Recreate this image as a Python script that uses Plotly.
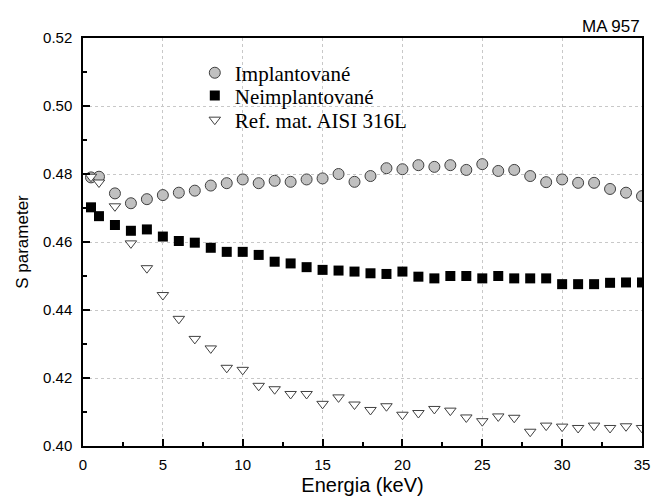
import plotly.graph_objects as go

energy = [0.5, 1, 2, 3, 4, 5, 6, 7, 8, 9, 10, 11, 12, 13, 14, 15, 16, 17, 18,
          19, 20, 21, 22, 23, 24, 25, 26, 27, 28, 29, 30, 31, 32, 33, 34, 35]

implantovane = [0.4790, 0.4792, 0.4743, 0.4714, 0.4726, 0.4738, 0.4745, 0.4751,
                0.4766, 0.4773, 0.4784, 0.4773, 0.4780, 0.4777, 0.4784, 0.4787,
                0.4800, 0.4777, 0.4794, 0.4817, 0.4814, 0.4826, 0.4821, 0.4826,
                0.4812, 0.4829, 0.4809, 0.4812, 0.4794, 0.4776, 0.4784, 0.4774,
                0.4774, 0.4756, 0.4745, 0.4735]

neimplantovane = [0.4702, 0.4676, 0.4650, 0.4633, 0.4637, 0.4616, 0.4603, 0.4598,
                  0.4583, 0.4571, 0.4571, 0.4562, 0.4542, 0.4537, 0.4526, 0.4518,
                  0.4516, 0.4513, 0.4508, 0.4506, 0.4513, 0.4498, 0.4493, 0.4500,
                  0.4500, 0.4493, 0.4500, 0.4493, 0.4493, 0.4493, 0.4476, 0.4476,
                  0.4476, 0.4480, 0.4481, 0.4481]

ref_aisi = [0.4792, 0.4775, 0.4705, 0.4596, 0.4523, 0.4444, 0.4374, 0.4315,
            0.4287, 0.4230, 0.4224, 0.4177, 0.4167, 0.4153, 0.4153, 0.4124,
            0.4143, 0.4122, 0.4106, 0.4117, 0.4092, 0.4097, 0.4109, 0.4104,
            0.4084, 0.4073, 0.4087, 0.4083, 0.4042, 0.4060, 0.4057, 0.4053,
            0.4060, 0.4053, 0.4058, 0.4053]

names = ["Implantované", "Neimplantované", "Ref. mat. AISI 316L"]
x_ticks = [0, 5, 10, 15, 20, 25, 30, 35]
y_ticks = [0.40, 0.42, 0.44, 0.46, 0.48, 0.50, 0.52]

fig = go.Figure()
fig.add_trace(go.Scatter(
    x=energy, y=implantovane, mode="markers", name=names[0], legend="legend",
    marker=dict(symbol="circle", size=11, color="#c0c0c0",
                line=dict(color="#404040", width=1))))
fig.add_trace(go.Scatter(
    x=energy, y=neimplantovane, mode="markers", name=names[1], legend="legend2",
    marker=dict(symbol="square", size=10, color="black",
                line=dict(color="black", width=0))))
fig.add_trace(go.Scatter(
    x=energy, y=ref_aisi, mode="markers", name=names[2], legend="legend3",
    marker=dict(symbol="triangle-down", size=10, color="white",
                line=dict(color="#404040", width=1))))

axis_common = dict(
    showline=True, linecolor="black", linewidth=1.5, mirror=True,
    ticks="inside", ticklen=7, tickwidth=1.5, tickcolor="black",
    showgrid=True, gridcolor="#c8c8c8", griddash="dot", gridwidth=1,
    zeroline=False, automargin=False,
    tickfont=dict(family="Liberation Sans, Arial", size=15, color="black"),
)

fig.update_xaxes(
    range=[0, 35], tickvals=x_ticks, ticktext=[str(v) for v in x_ticks],
    ticklabelstandoff=4,
    minor=dict(dtick=2.5, ticks="inside", ticklen=4, tickwidth=1.5,
               tickcolor="black", showgrid=False),
    title=dict(text="Energia (keV)",
               font=dict(family="Liberation Sans, Arial", size=20, color="black"),
               standoff=6),
    **axis_common)
fig.update_yaxes(
    range=[0.40, 0.52], tickvals=y_ticks, ticktext=[f"{v:.2f}" for v in y_ticks],
    ticklabelstandoff=6,
    minor=dict(dtick=0.01, ticks="inside", ticklen=4, tickwidth=1.5,
               tickcolor="black", showgrid=False),
    title=dict(text="S parameter",
               font=dict(family="Liberation Sans, Arial", size=17, color="black"),
               standoff=10),
    **axis_common)

fig.add_annotation(
    text="MA 957", xref="paper", yref="paper", x=1.0, y=1.0,
    xanchor="right", yanchor="bottom", showarrow=False, yshift=0,
    font=dict(family="Liberation Sans, Arial", size=17, color="black"))

leg_font = dict(family="Liberation Serif, Times New Roman", size=21, color="black")
leg_common = dict(x=0.2, xanchor="left", yanchor="middle",
                  bgcolor="rgba(0,0,0,0)", borderwidth=0, font=leg_font,
                  itemwidth=30)

fig.update_layout(
    width=651, height=504,
    margin=dict(l=83, r=9, t=38, b=58),
    paper_bgcolor="white", plot_bgcolor="white",
    showlegend=True,
    legend=dict(y=0.914, **leg_common),
    legend2=dict(y=0.858, **leg_common),
    legend3=dict(y=0.799, **leg_common),
)

fig.write_html("out.html", config={"displayModeBar": False},
               post_script="document.body.style.margin='0';")
